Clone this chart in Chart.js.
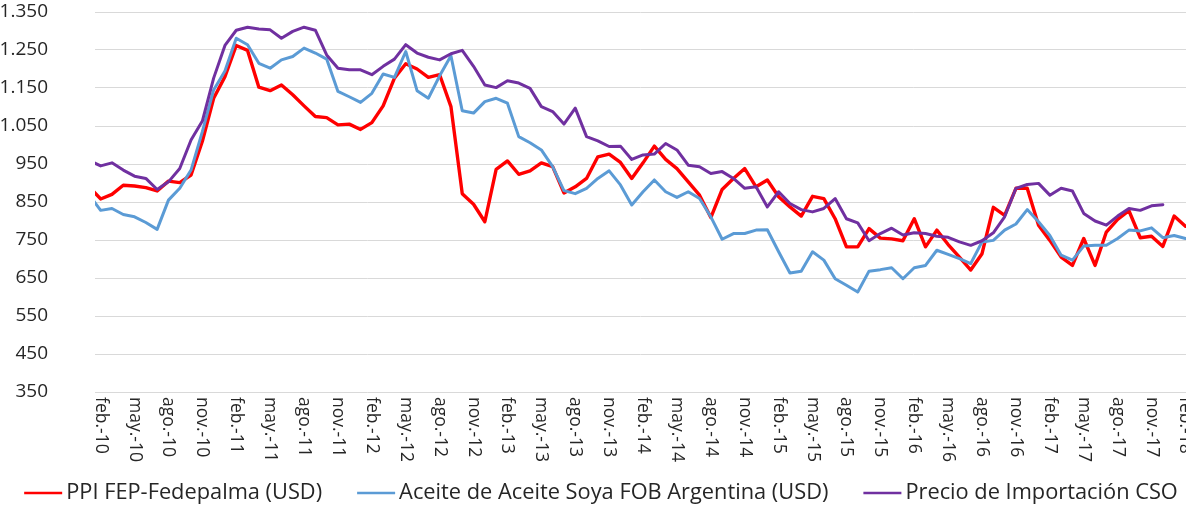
<!DOCTYPE html>
<html>
<head>
<meta charset="utf-8">
<script src="https://cdn.jsdelivr.net/npm/chart.js@4/dist/chart.umd.min.js"></script>
<style>
  html, body { margin: 0; padding: 0; background: #fff; overflow: hidden; }
  #wrap { position: relative; width: 1186px; height: 508px; }
</style>
</head>
<body>
<div id="wrap"><canvas id="chart"></canvas></div>
<script>
// monthly series, index 0 = ene.-10 ... index 97 = feb.-18
const tickLabels = [
  'feb.-10', 'may.-10', 'ago.-10', 'nov.-10',
  'feb.-11', 'may.-11', 'ago.-11', 'nov.-11',
  'feb.-12', 'may.-12', 'ago.-12', 'nov.-12',
  'feb.-13', 'may.-13', 'ago.-13', 'nov.-13',
  'feb.-14', 'may.-14', 'ago.-14', 'nov.-14',
  'feb.-15', 'may.-15', 'ago.-15', 'nov.-15',
  'feb.-16', 'may.-16', 'ago.-16', 'nov.-16',
  'feb.-17', 'may.-17', 'ago.-17', 'nov.-17',
  'feb.-18'
];
const firstTickIndex = 1;
const tickStep = 3;

const fepPrices = [
  890, 858, 870, 894, 892, 888, 879, 905, 901, 921, 1010, 1123,
  1180, 1262, 1249, 1152, 1143, 1158, 1132, 1103, 1075, 1072, 1053, 1055,
  1041, 1059, 1103, 1176, 1214, 1200, 1178, 1185, 1101, 872, 844, 798,
  936, 958, 923, 932, 953, 943, 874, 890, 912, 969, 976, 954,
  912, 953, 997, 962, 938, 903, 868, 809, 883, 912, 938, 890,
  908, 864, 837, 813, 865, 859, 806, 732, 732, 780, 755, 753,
  748, 806, 732, 776, 738, 705, 671, 714, 836, 815, 886, 886,
  789, 749, 705, 683, 754, 683, 771, 804, 827, 756, 760, 733,
  813, 786
];

const soyaPrices = [
  868, 828, 833, 817, 811, 796, 778, 855, 886, 934, 1035, 1145,
  1195, 1281, 1264, 1215, 1202, 1224, 1233, 1255, 1242, 1226, 1141, 1127,
  1112, 1136, 1187, 1178, 1246, 1143, 1123, 1182, 1235, 1090, 1084, 1114,
  1123, 1110, 1022, 1006, 987, 943, 880, 872, 886, 912, 932, 895,
  842, 877, 908, 877, 862, 877, 859, 811, 752, 767, 767, 776,
  777, 719, 663, 668, 719, 697, 648, 631, 613, 668, 672, 677,
  648, 677, 683, 723, 712, 701, 688, 745, 749, 776, 792, 830,
  798, 762, 710, 697, 734, 736, 736, 754, 776, 774, 782, 756,
  762, 754
];

const csoPrices = [
  959, 945, 953, 934, 918, 912, 883, 903, 938, 1013, 1063, 1176,
  1262, 1302, 1310, 1305, 1303, 1281, 1299, 1310, 1302, 1237, 1202, 1198,
  1198, 1185, 1207, 1226, 1264, 1242, 1231, 1224, 1240, 1249, 1207, 1158,
  1151, 1169, 1163, 1149, 1101, 1088, 1055, 1097, 1022, 1011, 996, 997,
  962, 974, 976, 1004, 987, 947, 943, 925, 930, 912, 886, 890,
  837, 877, 846, 830, 824, 833, 859, 806, 795, 748, 767, 781,
  763, 769, 767, 760, 757, 745, 736, 748, 769, 811, 886, 896,
  899, 868, 886, 879, 820, 800, 789, 813, 833, 828, 840, 843,
  null, null
];

const seriesNames = [
  'PPI FEP-Fedepalma (USD)',
  'Aceite de Aceite Soya FOB Argentina (USD)',
  'Precio de Importación CSO'
];
const seriesColors = ['#ff0000', '#5b9bd5', '#7030a0'];

const textColor = '#262626';
const fontFamily = '"Open Sans", "DejaVu Sans", sans-serif';

function formatThousands(value) {
  if (value >= 1000) {
    return Math.floor(value / 1000) + '.' + String(value % 1000).padStart(3, '0');
  }
  return String(value);
}

function toPoints(values) {
  return values.map((v, i) => ({ x: i, y: v }));
}

// month labels, rotated to read top-down like the original sheet
const monthTicks = {
  id: 'monthTicks',
  afterDraw(chart) {
    const { ctx, chartArea } = chart;
    const xScale = chart.scales.x;
    ctx.save();
    ctx.font = `17.5px ${fontFamily}`;
    ctx.fillStyle = textColor;
    ctx.textAlign = 'left';
    ctx.textBaseline = 'middle';
    tickLabels.forEach((label, k) => {
      const px = xScale.getPixelForValue(firstTickIndex + k * tickStep);
      ctx.save();
      ctx.translate(px, chartArea.bottom + 5);
      ctx.rotate(Math.PI / 2);
      ctx.fillText(label, 0, 0);
      ctx.restore();
    });
    ctx.restore();
  },
};

// legend drawn by hand so the three items stay on one row
const bottomLegend = {
  id: 'bottomLegend',
  afterDraw(chart) {
    const { ctx } = chart;
    const lineLen = 38;
    const textGap = 4;
    const itemGap = 35;
    const y = 493;
    ctx.save();
    ctx.font = `21.8px ${fontFamily}`;
    const widths = seriesNames.map((name) => ctx.measureText(name).width);
    const total = widths.reduce((sum, w) => sum + lineLen + textGap + w, 0) + itemGap * (seriesNames.length - 1);
    let x = 601 - total / 2;
    seriesNames.forEach((name, i) => {
      ctx.strokeStyle = seriesColors[i];
      ctx.lineWidth = 2.5;
      ctx.beginPath();
      ctx.moveTo(x, y);
      ctx.lineTo(x + lineLen, y);
      ctx.stroke();
      x += lineLen + textGap;
      ctx.fillStyle = textColor;
      ctx.textAlign = 'left';
      ctx.textBaseline = 'middle';
      ctx.fillText(name, x, y);
      x += widths[i] + itemGap;
    });
    ctx.restore();
  },
};

const seriesValues = [fepPrices, soyaPrices, csoPrices];

const datasets = seriesValues.map((values, i) => ({
  label: seriesNames[i],
  data: toPoints(values),
  borderColor: seriesColors[i],
  backgroundColor: seriesColors[i],
  borderWidth: i === 0 ? 3.4 : 3,
  pointRadius: 0,
  tension: 0,
  borderJoinStyle: 'round',
  borderCapStyle: 'round',
  spanGaps: false,
  clip: 0,
  order: seriesValues.length - i,
}));

const context = document.getElementById('chart').getContext('2d');

new Chart(context, {
  type: 'line',
  data: { datasets },
  options: {
    responsive: true,
    maintainAspectRatio: false,
    animation: false,
    events: [],
    layout: {
      padding: { top: 12, right: 0, bottom: 0, left: 0 },
    },
    plugins: {
      legend: { display: false },
      tooltip: { enabled: false },
    },
    scales: {
      x: {
        type: 'linear',
        min: 0.5,
        max: 97.05,
        ticks: { display: false },
        grid: { display: false },
        border: { display: false },
        afterFit(scale) {
          scale.height = 116;
        },
      },
      y: {
        min: 350,
        max: 1350,
        ticks: {
          stepSize: 100,
          color: textColor,
          padding: 47,
          font: { family: fontFamily, size: 19 },
          callback(value) {
            return formatThousands(Number(value));
          },
        },
        grid: {
          color: '#d9d9d9',
          lineWidth: 1,
          drawTicks: false,
        },
        border: { display: false },
        afterFit(scale) {
          scale.width = 95;
          scale.paddingTop = 0;
          scale.paddingBottom = 0;
        },
      },
    },
  },
  plugins: [monthTicks, bottomLegend],
});
</script>
</body>
</html>
